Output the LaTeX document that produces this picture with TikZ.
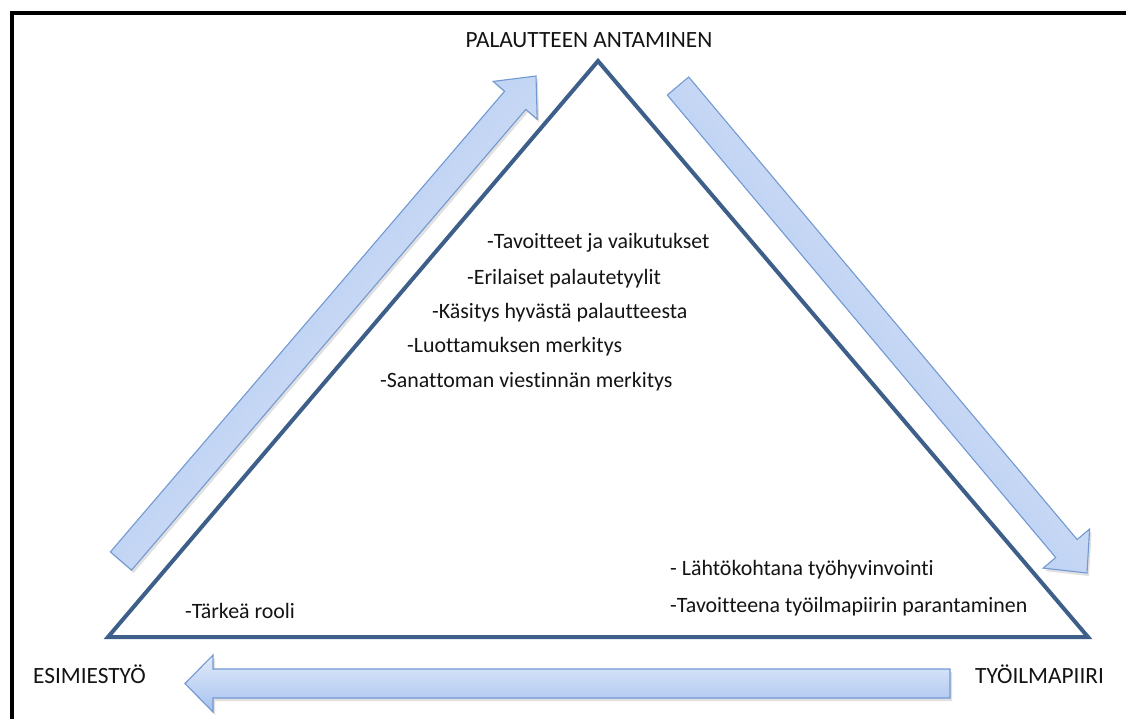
\documentclass[tikz,border=0pt]{standalone}
\usepackage{fontspec}
\setmainfont{Carlito}[Ligatures={NoCommon}]
\definecolor{tricol}{HTML}{3E5F8A}
\definecolor{txt}{HTML}{141414}
\definecolor{arrlight}{HTML}{E2EBFA}
\definecolor{arrdark}{HTML}{A6C1EE}
\definecolor{arredge}{HTML}{7299D2}
\begin{document}
\begin{tikzpicture}[x=1pt,y=-1pt,
  lbl/.style={font=\fontsize{23.3}{27}\selectfont, text=txt, inner sep=0pt, anchor=base west},
  item/.style={font=\fontsize{21.9}{26}\selectfont, text=txt, inner sep=0pt, anchor=base west},
  triline/.style={draw=tricol, line width=4pt},
  blockarrow/.style={draw=arredge, line width=1.1pt},
  arrshadow/.style={fill=black, opacity=0.12, draw=none}]
\useasboundingbox (0,0) rectangle (1126,718);
\clip (0,0) rectangle (1126,718);
\fill[white] (0,0) rectangle (1126,718);
% frame
\draw[line width=4pt] (12,740) -- (12,13) -- (1150,13);

% triangle
\coordinate (apex) at (598,61);
\coordinate (bl) at (108,637);
\coordinate (br) at (1088,637);
\draw[triline] (apex) -- (bl) -- (br) -- cycle;

% up-right arrow (shadow + arrow)
\begin{scope}[shift={(2,3)}]
\fill[arrshadow] (131.6,570.1) -- (525.8,109.4) -- (537.2,119.2) -- (536,76) -- (493.2,81.4) -- (504.6,91.2) -- (110.4,551.9) -- cycle;
\end{scope}
\path[blockarrow, top color=arrlight, bottom color=arrdark, shading angle=-130]
  (131.6,570.1) -- (525.8,109.4) -- (537.2,119.2) -- (536,76) -- (493.2,81.4) -- (504.6,91.2) -- (110.4,551.9) -- cycle;

% down-right arrow
\begin{scope}[shift={(2,3)}]
\fill[arrshadow] (688.7,77.0) -- (1077.1,539.5) -- (1089.6,529.0) -- (1087,573) -- (1043.2,568.1) -- (1055.7,557.5) -- (667.3,95.0) -- cycle;
\end{scope}
\path[blockarrow, top color=arrlight, bottom color=arrdark, shading angle=-50]
  (688.7,77.0) -- (1077.1,539.5) -- (1089.6,529.0) -- (1087,573) -- (1043.2,568.1) -- (1055.7,557.5) -- (667.3,95.0) -- cycle;

% left arrow (bottom)
\begin{scope}[shift={(2,3)}]
\fill[arrshadow] (950,669) -- (213,669) -- (213,655) -- (185,683.5) -- (213,712) -- (213,698) -- (950,698) -- cycle;
\end{scope}
\path[blockarrow, top color=arrlight, bottom color=arrdark]
  (950,669) -- (213,669) -- (213,655) -- (185,683.5) -- (213,712) -- (213,698) -- (950,698) -- cycle;

% labels
\node[lbl, anchor=base] (top) at (589,47) {PALAUTTEEN ANTAMINEN};
\node[lbl] (left) at (33,683) {ESIMIESTYÖ};
\node[lbl] (right) at (975,683) {TYÖILMAPIIRI};

\node[item] (i1) at (487,248) {-Tavoitteet ja vaikutukset};
\node[item] (i2) at (467,284) {-Erilaiset palautetyylit};
\node[item] (i3) at (432,318) {-Käsitys hyvästä palautteesta};
\node[item] (i4) at (407,352) {-Luottamuksen merkitys};
\node[item] (i5) at (380,387) {-Sanattoman viestinnän merkitys};

\node[item] (l1) at (185,618) {-Tärkeä rooli};
\node[item] (r1) at (670,575) {- Lähtökohtana työhyvinvointi};
\node[item] (r2) at (670,612) {-Tavoitteena työilmapiirin parantaminen};
\end{tikzpicture}
\end{document}
